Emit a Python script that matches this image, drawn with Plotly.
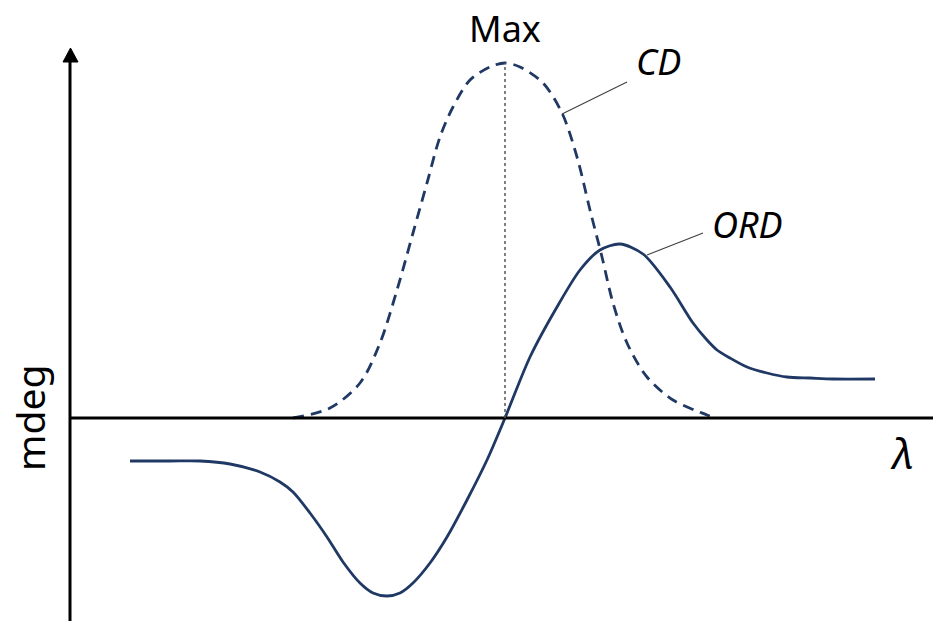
import plotly.graph_objects as go

# Wavelength (arbitrary units) and signal (mdeg, arbitrary units)
cd_x = [293, 330, 360, 380, 397, 413, 427, 440, 453, 470, 490, 505, 520, 543, 562, 577, 590, 602, 613, 627, 647, 673, 707, 715]
cd_y = [0, 10, 35, 75, 128, 185, 235, 281, 311, 338, 351, 355, 351, 335, 305, 261, 208, 161, 115, 75, 41, 18, 3, 0]

ord_x = [130, 170, 200, 230, 260, 280, 293, 310, 327, 343, 360, 373, 387, 400, 413, 430, 447, 467, 487, 505,
         530, 557, 580, 600, 620, 643, 670, 693, 707, 717, 730, 747, 767, 787, 810, 833, 875]
ord_y = [-43, -43, -43, -46, -54, -64, -74, -95, -119, -144, -165, -175, -178, -175, -165, -145, -119, -82, -42, 0,
         61, 111, 148, 168, 174, 164, 131, 95, 78, 68, 60, 51, 45, 41, 40, 39, 39]

max_x = 505
max_y = 355

NAVY = "#1f3864"
FONT = "Noto Sans"

fig = go.Figure()
fig.add_trace(go.Scatter(x=cd_x, y=cd_y, mode="lines",
                         line=dict(color=NAVY, width=2.8, dash="11px,7px", shape="spline", smoothing=0.9),
                         hoverinfo="skip"))
fig.add_trace(go.Scatter(x=ord_x, y=ord_y, mode="lines",
                         line=dict(color=NAVY, width=2.8, shape="spline", smoothing=0.8),
                         hoverinfo="skip"))

shapes = [
    # x axis
    dict(type="line", x0=70, x1=933, y0=0, y1=0, line=dict(color="black", width=3)),
    # y axis
    dict(type="line", x0=70, x1=70, y0=-210, y1=357, line=dict(color="black", width=3)),
    dict(type="path", path="M 63,356 L 70.5,370 L 78,356 Z", fillcolor="black", line=dict(color="black", width=1)),
    # dotted max line
    dict(type="line", x0=max_x, x1=max_x, y0=0, y1=max_y, line=dict(color="#555555", width=1.5, dash="dot")),
    # leader lines
    dict(type="line", x0=562, x1=627, y0=304, y1=336, line=dict(color="#404040", width=1.2)),
    dict(type="line", x0=647, x1=703, y0=163, y1=185, line=dict(color="#404040", width=1.2)),
]

annotations = [
    dict(x=505, y=390, text="Max", showarrow=False, font=dict(family=FONT, size=36, color="black")),
    dict(x=658, y=357, text="CD", showarrow=False, font=dict(family=FONT, size=36, color="black", style="italic")),
    dict(x=747, y=194, text="ORD", showarrow=False, font=dict(family=FONT, size=36, color="black", style="italic")),
    dict(x=902, y=-34, text="λ", showarrow=False, font=dict(family=FONT, size=42, color="black", style="italic")),
    dict(x=29, y=0, text="mdeg", showarrow=False, textangle=-90, font=dict(family=FONT, size=39, color="black")),
]

fig.update_layout(
    width=933, height=621, autosize=False,
    margin=dict(l=0, r=0, t=0, b=0),
    paper_bgcolor="white", plot_bgcolor="white",
    showlegend=False,
    xaxis=dict(range=[0, 933], visible=False, fixedrange=True),
    yaxis=dict(range=[-203, 418], visible=False, fixedrange=True),
    shapes=shapes,
    annotations=annotations,
)

fig.write_html("out.html", config={"displayModeBar": False},
               post_script="document.body.style.margin='0';document.body.style.overflow='hidden';")
